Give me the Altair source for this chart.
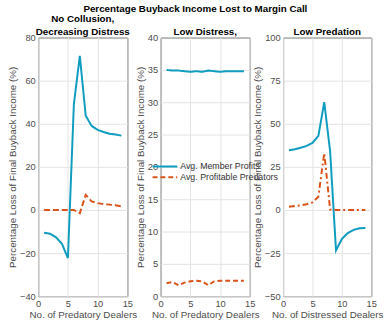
import altair as alt
import pandas as pd

x_vals = list(range(1, 15))

p1_member = [-10.6, -11.0, -12.7, -15.7, -22.3, 49.0, 71.5, 43.7, 39.0, 37.2, 36.2, 35.4, 35.0, 34.5]
p1_pred = [0, 0, 0, 0, 0, 0, -1.5, 7.0, 4.0, 3.2, 2.7, 2.5, 2.2, 1.7]

p2_member = [35.0, 34.9, 34.9, 34.8, 34.7, 34.8, 34.7, 34.9, 34.8, 34.7, 34.8, 34.8, 34.8, 34.8]
p2_pred = [2.0, 2.2, 1.7, 2.1, 2.3, 2.4, 2.3, 1.7, 2.3, 2.4, 2.4, 2.4, 2.4, 2.4]

p3_member = [34.6, 35.2, 36.1, 37.2, 38.9, 43.0, 62.5, 34.0, -23.4, -16.8, -13.4, -11.5, -10.6, -10.4]
p3_pred = [1.9, 2.3, 2.7, 3.3, 4.4, 7.7, 33.0, 0.3, 0, 0, 0, 0, 0, 0]

series_names = ["Avg. Member Profits", "Avg. Profitable Predators"]
BLUE = "#0e9cbf"
ORANGE = "#d95319"
FONT = "Liberation Sans"
YTITLE = "Percentage Loss of Final Buyback Income (%)"


def frame(member, pred):
    rows = []
    for xv, m, p in zip(x_vals, member, pred):
        rows.append({"x": xv, "y": m, "series": series_names[0]})
        rows.append({"x": xv, "y": p, "series": series_names[1]})
    return pd.DataFrame(rows)


def axes(xtitle, ydom, ystep):
    xenc = alt.X("x:Q", scale=alt.Scale(domain=[0, 15], nice=False),
                 axis=alt.Axis(values=[0, 5, 10, 15], title=xtitle))
    yvals = list(range(ydom[0], ydom[1] + 1, ystep))
    yenc = alt.Y("y:Q", scale=alt.Scale(domain=ydom, nice=False),
                 axis=alt.Axis(values=yvals, title=YTITLE))
    return xenc, yenc


def leg():
    return alt.Legend(orient="none", legendX=7, legendY=126, title=None,
                      symbolType="M-4.6,0H1", symbolSize=81, symbolStrokeWidth=2,
                      labelFontSize=9, labelFont=FONT, labelColor="#333333",
                      rowPadding=-3, labelOffset=2, padding=0)


def panel(df, xtitle, ydom, ystep, title, dash, w, legend=False):
    xenc, yenc = axes(xtitle, ydom, ystep)
    if legend:
        ch = alt.Chart(df).mark_line(strokeWidth=2).encode(
            x=xenc, y=yenc,
            color=alt.Color("series:N", scale=alt.Scale(domain=series_names, range=[BLUE, ORANGE]),
                            legend=leg()),
            strokeDash=alt.StrokeDash("series:N", scale=alt.Scale(domain=series_names, range=[[1, 0], [5, 3]]),
                                      legend=leg()),
        )
    else:
        base = alt.Chart(df)
        b = base.transform_filter(alt.datum.series == series_names[0]).mark_line(
            strokeWidth=2, color=BLUE).encode(x=xenc, y=yenc)
        o = base.transform_filter(alt.datum.series == series_names[1]).mark_line(
            strokeWidth=2, color=ORANGE, strokeDash=dash).encode(x=xenc, y=yenc)
        ch = alt.layer(b, o)
    return ch.properties(width=w, height=264, title=alt.TitleParams(title, fontSize=10, font=FONT,
                                                                   fontWeight="bold", color="#000000",
                                                                   offset=-4, lineHeight=13))


c1 = panel(frame(p1_member, p1_pred), "No. of Predatory Dealers", [-40, 80], 20,
           ["No Collusion,", "Decreasing Distress"], [6, 3], 91)
c2 = panel(frame(p2_member, p2_pred), "No. of Predatory Dealers", [0, 40], 5,
           "Low Distress,", [6, 3], 91, legend=True)
c3 = panel(frame(p3_member, p3_pred), "No. of Distressed Dealers", [-50, 100], 25,
           "Low Predation", [6, 3, 2, 3], 90)

chart = alt.hconcat(c1, c2, c3, spacing=34, bounds="flush").resolve_scale(
    color="independent", strokeDash="independent"
).properties(
    title=alt.TitleParams("Percentage Buyback Income Lost to Margin Call", fontSize=10, font=FONT,
                          fontWeight="bold", color="#000000", anchor="middle", offset=0),
    padding={"left": 7, "top": 0, "right": 0, "bottom": 0},
).configure_view(stroke="#262626", strokeWidth=1).configure_axis(
    grid=True, gridColor="#e3e3e3", gridWidth=1, domain=False,
    tickSize=0, labelFont=FONT, titleFont=FONT,
    labelFontSize=9.5, titleFontSize=10, labelColor="#4d4d4d", titleColor="#4d4d4d",
    titleFontWeight="normal", labelPadding=3,
).configure_axisY(titlePadding=2).configure_axisX(titlePadding=1, labelFlush=False)

chart.save("out.html", embed_options={"renderer": "svg", "actions": False})
